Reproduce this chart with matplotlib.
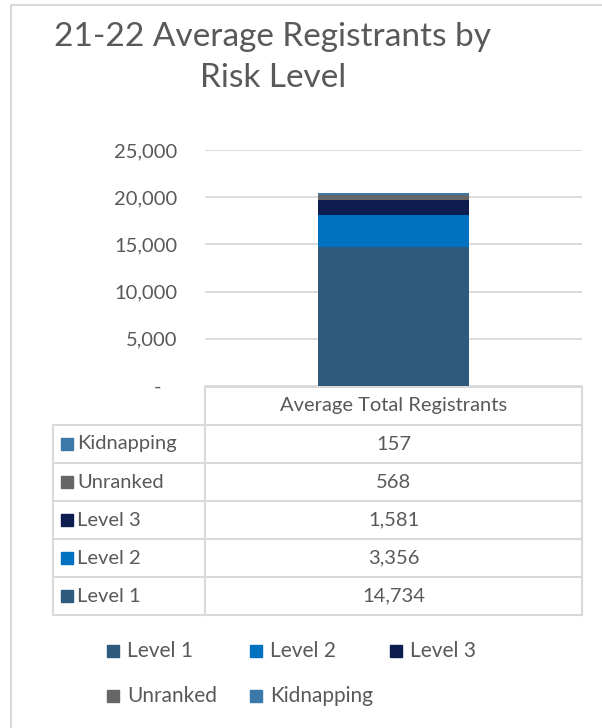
import matplotlib.pyplot as plt
from matplotlib.patches import Rectangle
from matplotlib.ticker import FuncFormatter

plt.rcParams['font.family'] = ['Lato', 'DejaVu Sans']

# data
series = ['Level 1', 'Level 2', 'Level 3', 'Unranked', 'Kidnapping']
values = [14734, 3356, 1581, 568, 157]
colors = ['#2E5A7D', '#0070C0', '#0D1D50', '#666666', '#3C78A8']
category = 'Average Total Registrants'
title_lines = ['21-22 Average Registrants by', 'Risk Level']

W, H = 602, 728
txt = '#595959'
grid = '#D9D9D9'
fs = 14.5

fig = plt.figure(figsize=(W / 100, H / 100), dpi=100)


def fx(px):
    return px / W


def fy(py):
    return 1 - py / H


# plot area
ax = fig.add_axes([fx(205), fy(386), fx(582) - fx(205), fy(150) - fy(386)])
bottom = 0
for name, v, c in zip(series, values, colors):
    ax.bar(0, v, width=0.4, bottom=bottom, color=c, label=name, zorder=3)
    bottom += v
ax.set_xlim(-0.5, 0.5)
ax.set_ylim(0, 25000)
ax.set_yticks(range(0, 25001, 5000))
ax.yaxis.set_major_formatter(FuncFormatter(lambda v, p: '-   ' if v == 0 else f'{int(v):,}'))
ax.tick_params(axis='y', length=0, pad=20, labelsize=fs, labelcolor=txt)
ax.set_xticks([])
ax.grid(axis='y', color=grid, linewidth=1.3, zorder=0)
for s in ax.spines.values():
    s.set_visible(False)

# overlay in pixel coords for title, table and legend
ov = fig.add_axes([0, 0, 1, 1], zorder=-1)
ov.set_xlim(0, W)
ov.set_ylim(H, 0)
ov.axis('off')

# outer chart border
ov.plot([11, 11, W], [H, 5, 5], color=grid, linewidth=1.5)

for i, line in enumerate(title_lines):
    ov.text(273, 37 + 41 * i, line, ha='center', va='center', fontsize=24, color=txt)

# data table
lc = dict(color=grid, linewidth=1.5, solid_capstyle='projecting')
top, hdr, rh = 387, 425, 38
nrow = len(series)
bot = hdr + rh * nrow
ov.plot([205, 582], [top, top], **lc)
ov.plot([205, 205], [top, bot], **lc)
ov.plot([582, 582], [top, bot], **lc)
ov.plot([53, 53], [hdr, bot], **lc)
for i in range(nrow + 1):
    ov.plot([53, 582], [hdr + rh * i, hdr + rh * i], **lc)
ov.text(393.5, (top + hdr) / 2, category, ha='center', va='center', fontsize=fs, color=txt)
rows = list(zip(series, values, colors))[::-1]
for i, (name, v, c) in enumerate(rows):
    yc = hdr + rh * i + rh / 2
    ov.add_patch(Rectangle((61, yc - 6), 12, 12, color=c))
    ov.text(77, yc, name, ha='left', va='center', fontsize=fs, color=txt)
    ov.text(393.5, yc, f'{v:,}', ha='center', va='center', fontsize=fs, color=txt)

# legend
leg_pos = [(107, 651), (250, 651), (390, 651), (107, 696), (250, 696)]
for (lx, ly), name, c in zip(leg_pos, series, colors):
    ov.add_patch(Rectangle((lx, ly - 6), 12, 12, color=c))
    ov.text(lx + 20, ly, name, ha='left', va='center', fontsize=15, color=txt)

fig.savefig('out.png', dpi=100)
